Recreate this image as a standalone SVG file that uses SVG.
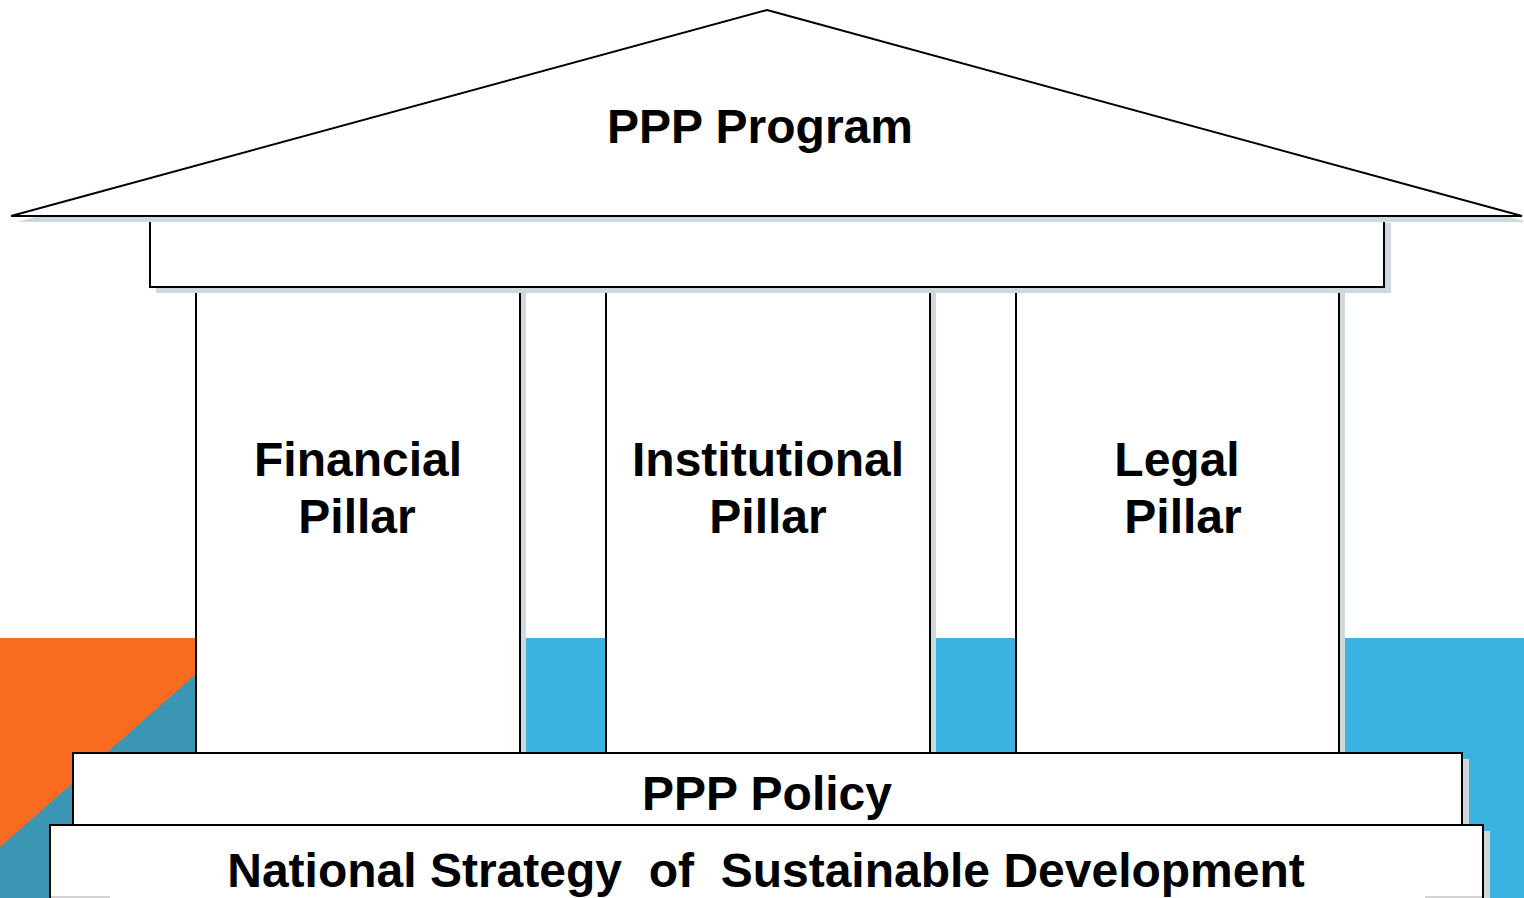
<svg xmlns="http://www.w3.org/2000/svg" width="1524" height="898" viewBox="0 0 1524 898">
<style>
.sh{fill:#CFD8DC;stroke:none}
.bx{fill:#FFFFFF;stroke:#000000;stroke-width:2}
.pf{fill:#FFFFFF;stroke:none}
.ps{fill:none;stroke:#000000;stroke-width:2}
.t{font-family:"Liberation Sans",Arial,sans-serif;font-weight:bold;font-size:48px;fill:#000000;text-anchor:middle}
</style>
<rect width="1524" height="898" fill="#FFFFFF"/>
<g id="background">
<rect x="0" y="638" width="196" height="260" fill="#F96B1E"/>
<polygon points="196,674 196,898 0,898 0,847" fill="#3A96B3"/>
<rect x="526" y="638" width="80" height="115" fill="#3BB3E0"/>
<rect x="936" y="638" width="80" height="115" fill="#3BB3E0"/>
<rect x="1345" y="638" width="179" height="260" fill="#3BB3E0"/>
</g>
<g id="beam">
<rect class="sh" x="156" y="223" width="1235" height="70"/>
<rect class="bx" x="150" y="217" width="1234" height="70"/>
</g>
<g id="roof">
<polygon class="sh" points="773,16 1528,222 17,222"/>
<polygon class="bx" points="767,10 1522,216 11,216"/>
<text class="t" x="760" y="143">PPP Program</text>
</g>
<g id="financial-pillar">
<rect class="sh" x="202" y="293" width="324" height="460"/>
<rect class="pf" x="196" y="293" width="324" height="460"/>
<path class="ps" d="M196,293 V753 M520,293 V753"/>
<text class="t" x="358" y="476">Financial</text>
<text class="t" x="357" y="533">Pillar</text>
</g>
<g id="institutional-pillar">
<rect class="sh" x="612" y="293" width="324" height="460"/>
<rect class="pf" x="606" y="293" width="324" height="460"/>
<path class="ps" d="M606,293 V753 M930,293 V753"/>
<text class="t" x="768" y="476">Institutional</text>
<text class="t" x="768" y="533">Pillar</text>
</g>
<g id="legal-pillar">
<rect class="sh" x="1022" y="293" width="323" height="460"/>
<rect class="pf" x="1016" y="293" width="323" height="460"/>
<path class="ps" d="M1016,293 V753 M1339,293 V753"/>
<text class="t" x="1177" y="476">Legal</text>
<text class="t" x="1183" y="533">Pillar</text>
</g>
<g id="ppp-policy">
<rect class="sh" x="79" y="759" width="1390" height="72"/>
<rect class="bx" x="73" y="753" width="1389" height="72"/>
<text class="t" x="767" y="810">PPP Policy</text>
</g>
<g id="national-strategy">
<rect class="sh" x="56" y="831" width="1434" height="80"/>
<rect class="bx" x="50" y="825" width="1433" height="80"/>
<text class="t" x="766" y="887" xml:space="preserve">National Strategy  of  Sustainable Development</text>
<line x1="51" y1="897" x2="110" y2="897" stroke="#AAAAAA" stroke-width="1"/>
<line x1="1425" y1="897" x2="1482" y2="897" stroke="#AAAAAA" stroke-width="1"/>
</g>
<g id="connectors"></g>
</svg>
